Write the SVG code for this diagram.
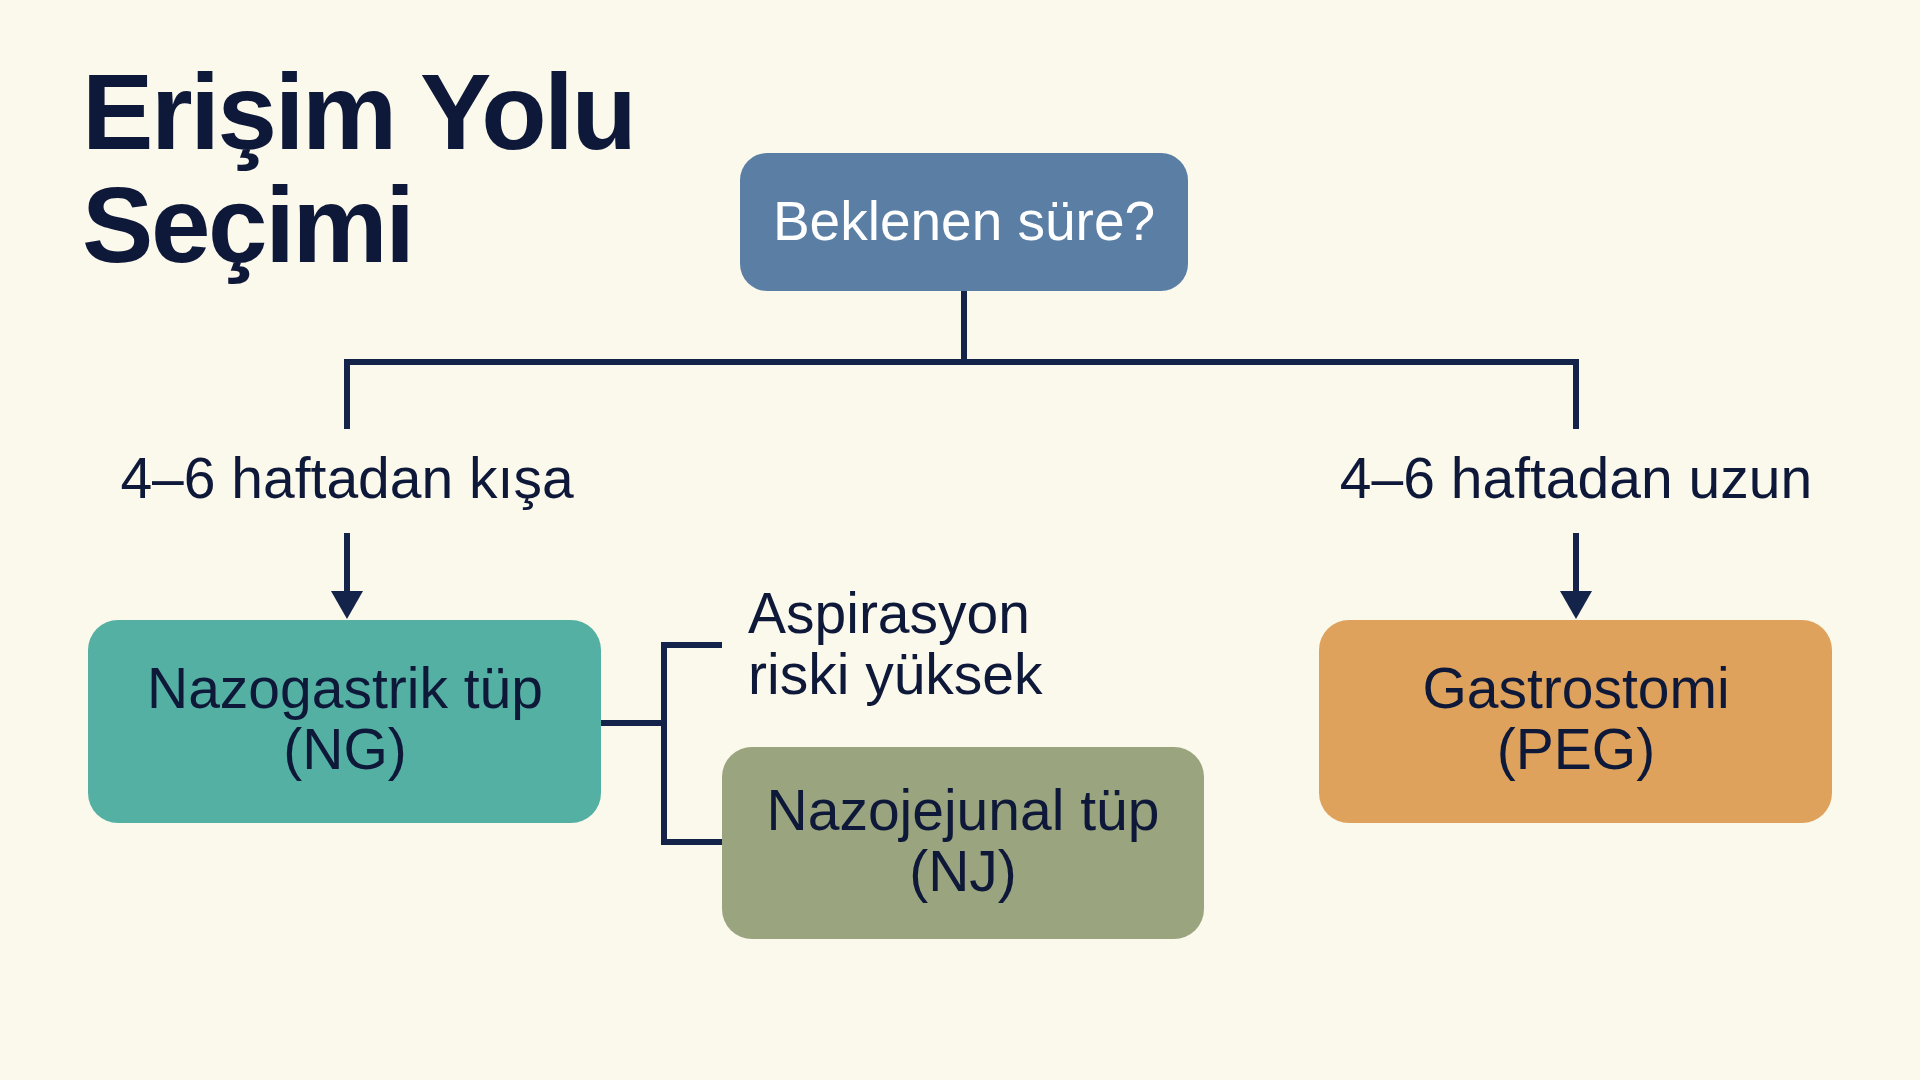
<svg xmlns="http://www.w3.org/2000/svg" width="1920" height="1080" viewBox="0 0 1920 1080">
<defs>
<style>
.title{font-family:"Liberation Sans",Arial,sans-serif;font-weight:bold;font-size:107px;fill:#0E1838;letter-spacing:-2.4px;}
.lbl{font-family:"Liberation Sans",Arial,sans-serif;font-size:57px;fill:#0E1838;}
.nt{font-family:"Liberation Sans",Arial,sans-serif;font-size:57px;fill:#0E1838;text-anchor:middle;}
.ln{fill:none;stroke:#13234A;stroke-width:6;stroke-linecap:butt;stroke-linejoin:miter;}
.ah{fill:#13234A;}
</style>
</defs>
<rect width="1920" height="1080" fill="#FBF8EC"/>
<g id="title">
<text class="title" x="82" y="149">Erişim Yolu</text>
<text class="title" x="82" y="262">Seçimi</text>
</g>
<g id="connectors">
<path class="ln" d="M964,291 V362 M347,429 V362 H1576 V429"/>
<line class="ln" x1="347" y1="533" x2="347" y2="592"/>
<path class="ah" d="M331,591 L363,591 L347,619 Z"/>
<line class="ln" x1="1576" y1="533" x2="1576" y2="592"/>
<path class="ah" d="M1560,591 L1592,591 L1576,619 Z"/>
<path class="ln" d="M601,723 H664 M722,645 H664 V842 H724"/>
</g>
<g id="label-short"><text class="lbl" x="347" y="498" text-anchor="middle">4–6 haftadan kışa</text></g>
<g id="label-long"><text class="lbl" x="1576" y="498" text-anchor="middle">4–6 haftadan uzun</text></g>
<g id="label-aspiration">
<text class="lbl" x="748" y="633">Aspirasyon</text>
<text class="lbl" x="748" y="694">riski yüksek</text>
</g>
<g id="node-start">
<rect x="740" y="153" width="448" height="138" rx="27" fill="#5B7FA4"/>
<text class="nt" x="964" y="240" style="fill:#FFFFFF;font-size:55px">Beklenen süre?</text>
</g>
<g id="node-ng">
<rect x="88" y="620" width="513" height="203" rx="30" fill="#55B0A4"/>
<text class="nt" x="345" y="708">Nazogastrik tüp</text>
<text class="nt" x="345" y="769">(NG)</text>
</g>
<g id="node-nj">
<rect x="722" y="747" width="482" height="192" rx="30" fill="#9AA47E"/>
<text class="nt" x="963" y="830">Nazojejunal tüp</text>
<text class="nt" x="963" y="891">(NJ)</text>
</g>
<g id="node-peg">
<rect x="1319" y="620" width="513" height="203" rx="30" fill="#DFA25C"/>
<text class="nt" x="1576" y="708">Gastrostomi</text>
<text class="nt" x="1576" y="769">(PEG)</text>
</g>
</svg>
